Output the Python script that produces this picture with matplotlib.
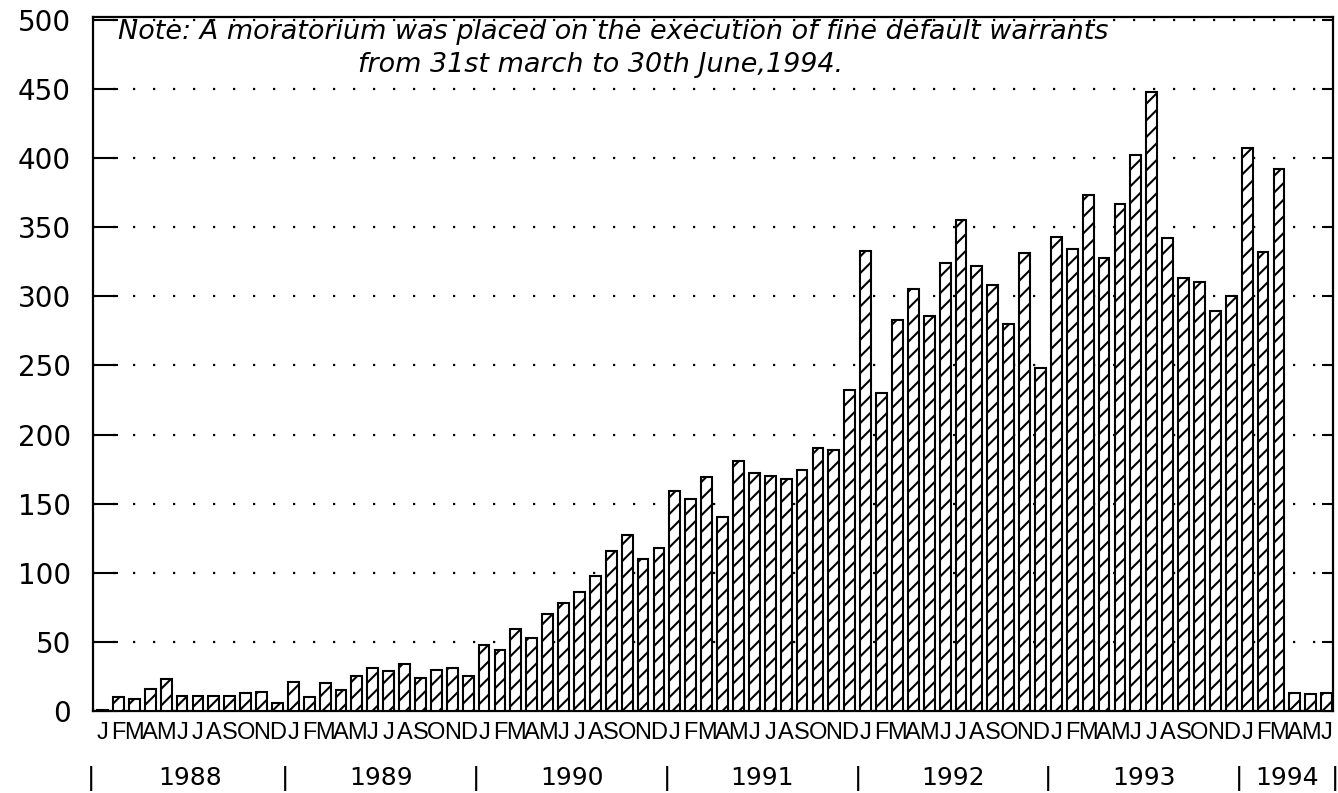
import matplotlib
matplotlib.use("Agg")
import matplotlib.pyplot as plt
import numpy as np

# ---- data ----
years = ["1988", "1989", "1990", "1991", "1992", "1993", "1994"]
month_letters = ["J", "F", "M", "A", "M", "J", "J", "A", "S", "O", "N", "D"]
v1988 = [1, 10, 9, 16, 23, 11, 11, 11, 11, 13, 14, 6]
v1989 = [21, 10, 20, 15, 25, 31, 29, 34, 24, 30, 31, 25]
v1990 = [48, 44, 59, 53, 70, 78, 86, 98, 116, 127, 110, 118]
v1991 = [159, 153, 169, 140, 181, 172, 170, 168, 174, 190, 189, 232]
v1992 = [333, 230, 283, 305, 286, 324, 355, 322, 308, 280, 331, 248]
v1993 = [343, 334, 373, 328, 367, 402, 448, 342, 313, 310, 289, 300]
v1994 = [407, 332, 392, 13, 12, 13]
yticks = [0, 50, 100, 150, 200, 250, 300, 350, 400, 450, 500]
note_line1 = "Note: A moratorium was placed on the execution of fine default warrants"
note_line2 = "from 31st march to 30th June,1994."

series = [v1988, v1989, v1990, v1991, v1992, v1993, v1994]
values = [v for s in series for v in s]
labels = [month_letters[i % 12] for i in range(len(values))]
x = np.arange(len(values))

plt.rcParams["font.family"] = ["DejaVu Sans"]
plt.rcParams["hatch.linewidth"] = 1.5

W, H = 1338, 793
fig = plt.figure(figsize=(W / 100, H / 100), dpi=100)
ax = fig.add_axes([93 / W, 1 - 711 / H, (1333 - 93) / W, (711 - 17) / H])

ax.bar(x, values, width=0.68, color="white", edgecolor="black",
       linewidth=1.5, hatch="//", zorder=3)

ax.set_xlim(-0.6, len(values) - 0.6)
ax.set_ylim(0, 502)

ax.set_yticks(yticks)
ax.set_yticklabels([str(t) for t in yticks], fontsize=20)
ax.tick_params(axis="y", direction="in", length=18, width=1.5, pad=16,
               right=True, labelright=False)
for t in ax.yaxis.get_major_ticks():
    t.tick2line.set_markersize(8)

ax.grid(axis="y", color="black", linestyle=(0, (1, 8)), linewidth=1.6, zorder=1)
ax.set_axisbelow(True)

ax.set_xticks(x)
ax.set_xticklabels(labels, fontsize=17,
                   family=["Liberation Sans Narrow", "Liberation Sans"],
                   stretch="condensed")
ax.tick_params(axis="x", length=0, pad=8)

for sp in ax.spines.values():
    sp.set_linewidth(1.6)

# year labels and separators
trans = ax.get_xaxis_transform()
start = 0
for yr, s in zip(years, series):
    n = len(s)
    ax.text(start + (n - 1) / 2, -0.097, yr, transform=trans, ha="center",
            va="center", fontsize=18, clip_on=False)
    start += n
bounds = [-0.75] + [12 * k - 0.5 for k in range(1, 7)] + [len(values) - 0.5]
for b in bounds:
    ax.text(b, -0.097, "|", transform=trans, ha="center", va="center",
            fontsize=18, clip_on=False)

t1 = fig.text(118 / W, 1 - 32 / H, note_line1, fontsize=18, style="italic",
              ha="left", va="center")
t2 = fig.text(358 / W, 1 - 65 / H, note_line2, fontsize=18, style="italic",
              ha="left", va="center")
fig.canvas.draw()
r = fig.canvas.get_renderer()
w1 = t1.get_window_extent(r).width
fs = 18 * 989 / w1
t1.set_fontsize(fs)
t2.set_fontsize(fs)

fig.savefig("out.png", dpi=100)
